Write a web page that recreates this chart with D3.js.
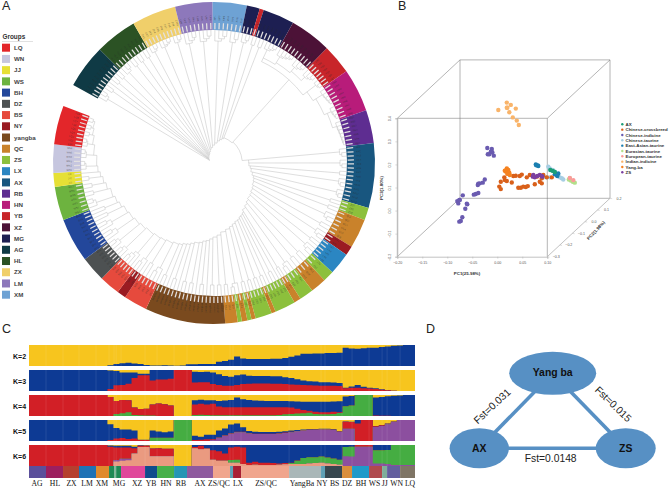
<!DOCTYPE html>
<html><head><meta charset="utf-8">
<script src="https://cdn.jsdelivr.net/npm/d3@7"></script>
<style>
html,body{margin:0;padding:0;background:#fff}
svg{display:block}
text{font-family:"Liberation Sans",Arial,sans-serif}
</style></head><body>
<svg id="c" width="669" height="488" viewBox="0 0 669 488"></svg>
<script>
// ---------- Panel A data ----------
const legendGroups=["LQ","WN","JJ","WS","BH","DZ","BS","NY","yangba","QC","ZS","LX","AX","RB","HN","YB","XZ","MG","AG","HL","ZX","LM","XM"];
const legendColors=["#e3262a","#c6c6df","#e6e035","#6db33f","#23479b","#4d5152","#e64a3d","#9a1b22","#7a4a1e","#c9822b","#8cc03c","#2b86c2","#18567f","#5e2d91","#b81c7a","#c8252a","#4c1237","#1d1f52","#0f3a45","#2b5224","#f0cf6a","#8d78bb","#6ea2d4"];
const ringStart=299;
const ringGroups=["AG","HL","ZX","LM","XM","MG","YB","MG","XZ","YB","HN","RB","AX","ZS","QC","NY","LX","ZS","QC","ZS","QC","ZS","QC","ZS","QC","ZS","QC","ZS","QC","yangba","BS","NY","BS","DZ","BH","WS","JJ","WN","LQ"];
const ringEnds=[314.8,330,346,359.5,371.8,376.5,378,389.4,404.5,415.3,430.9,442.9,466.2,470.7,481.3,484.7,492.7,496.7,502.4,507.5,510,517.5,519,525,526.5,528,530,531.5,536,565,573.5,576.7,584.2,593.3,609.3,621.4,626.4,636.7,650.7];
const ringLeaves=[10,9,10,8,7,3,1,7,9,7,9,7,14,3,6,2,5,2,3,3,2,5,1,4,1,1,1,1,3,18,5,2,5,6,10,7,3,6,9];
const spiralAngles=[299,330,360,380,395,450,470,495,520,540,565,585,600,633,650];
const spiralRadii=[5,10,20,27,32,35,43,50,64,76,90,95,100,121,128];
const treeCladesEarly=[[[3,2,1,2,2],124],[[3,2,2,2],124],[[3,4,3],126],[[4,4],122],[[4,3],122],[[3,2,2],124]];
const bigCladeA=[4,5,4,4], bigCladeB=[3,5,4,7];
const treeCladesLate=[[[3,3,2,3,3],126],[[2,2,3,2,3,2,3,2,2,3,2,1,2,1,2,2,2,2,3,2],122],[[2,2,1,2,1,2,2,1,2,1,2],122],[[3,2,3,4],118],[[3,3],122],[[3,3,2,2],118],[[3,2,2],124],[[2,1],126],[[3,3],128],[[3,2,2,2],128]];
// ---------- Panel B data ----------
const pcaGroups=["AX","Chinese-crossbreed","Chinese-indicine","Chinese-taurine","East-Asian-taurine","Eurasian-taurine","European-taurine","Indian-indicine","Yang-ba","ZS"];
const pcaColors=["#1b9e77","#d9601a","#6a5bb0","#a6cee3","#1a7fb0","#b2df8a","#fb9a99","#f9b46a","#f58220","#7b3fa0"];
const ptsAX=[[.106,.176],[.111,.172],[.115,.167]];
const ptsCrossbreed=[[.007,.125],[.015,.132],[.019,.128],[.014,.144],[.029,.122],[.032,.150],[.037,.151],[.004,.104],[.007,.093],[.042,.099],[.047,.099],[.052,.104],[.057,.102],[.061,.106],[.059,.144],[.065,.154],[.072,.150],[.079,.147],[.075,.114],[.085,.125],[.089,.118],[.089,.140],[.092,.154],[.099,.144],[.109,.144],[.049,.156],[.045,.150]];
const ptsCnIndicine=[[-.020,.271],[-.011,.267],[-.013,.255],[-.016,.244],[-.019,.244],[-.007,.238],[-.010,.253],[-.025,.135],[-.029,.121],[-.035,.118],[-.038,.117],[-.039,.111],[-.038,.076],[-.043,.072],[-.047,.069],[-.069,.066],[-.076,.046],[-.080,.041],[-.078,.031],[-.075,.046],[-.061,.030],[-.060,.027],[-.064,.008],[-.070,-.029],[-.073,-.045],[-.076,-.048]];
const ptsCnTaurine=[[.102,.190],[.105,.183],[.111,.176],[.115,.169],[.122,.154],[.129,.140],[.132,.135],[.099,.144],[.105,.144],[.092,.144],[.125,.144]];
const ptsEastAsian=[[.077,.200],[.081,.196],[.078,.196],[.082,.193],[.115,.157],[.119,.154],[.122,.161],[.120,.150],[.117,.159]];
const ptsEurasian=[[.143,.135],[.147,.130],[.151,.125],[.155,.121],[.145,.140]];
const ptsEuropean=[[.145,.141],[.152,.132]];
const ptsIndian=[[.002,.436],[.019,.468],[.027,.458],[.020,.446],[.019,.446],[.037,.442],[.024,.426],[.031,.404],[.039,.390],[.043,.371]];
const ptsYangba=[[.019,.183],[.022,.176],[.017,.169],[.024,.164],[.020,.159],[.025,.154],[.015,.173]];
const ptsZS=[[.071,.147],[.075,.144],[.080,.150],[.089,.150],[.072,.154],[.090,.147],[.085,.154]];
const pcaPoints=[ptsCnTaurine,ptsCrossbreed,ptsCnIndicine,ptsZS,ptsEastAsian,ptsAX,ptsEurasian,ptsEuropean,ptsIndian,ptsYangba];
const pcaPointGroup=[3,1,2,9,4,0,5,6,7,8];
const pc1Ticks=[-.20,-.15,-.10,-.05,0,.05,.10], pc2Ticks=[-.3,-.2,-.1,0,.1,.2], pc3Ticks=[-.2,-.1,0,.1,.2,.3,.4];
// ---------- Panel C data (cumulative share in percent, read per column) ----------
const k2Blue=[0,0,0,0,0,0,0,0,0,0,0,0,0,4,10,13,15,12,10,5,2,2,3,2,1,2,8,8,9,9,10,20,24,30,45,36,33,33,33,33,34,35,38,44,50,58,58,60,60,62,62,63,87,83,82,84,87,87,90,93,97,98,100,100];
const k3Red=[0,0,0,0,0,0,0,0,0,0,0,0,0,10,27,28,35,62,75,75,50,55,55,58,100,100,100,40,42,42,33,28,25,25,28,33,35,36,36,36,35,35,33,31,30,28,27,26,25,25,25,24,13,15,15,13,12,10,6,3,1,0,0,0];
const k3Blue=[100,100,100,100,100,100,100,100,100,100,100,100,100,98,95,88,88,88,82,82,100,100,100,100,100,100,100,92,90,92,88,80,72,68,75,78,73,72,72,71,70,70,66,62,56,50,47,45,42,42,40,38,15,22,28,20,16,13,8,3,1,0,0,0];
const k4Green=[0,0,0,0,0,0,0,0,0,0,0,0,0,0,10,13,18,5,3,2,2,0,0,0,0,0,0,5,6,5,3,3,3,3,3,3,3,3,3,3,3,5,8,10,12,13,15,10,8,8,10,14,47,50,100,100,100,0,0,0,0,0,0,0];
const k4Red=[100,100,100,100,100,100,100,100,100,100,100,100,100,90,72,76,75,40,33,35,55,60,56,50,0,0,0,55,58,55,58,45,42,42,42,42,42,42,42,42,42,42,42,40,35,28,25,20,18,18,20,18,47,50,100,100,100,2,1,1,0,0,0,0];
const k4Blue=[100,100,100,100,100,100,100,100,100,100,100,100,100,90,72,76,75,40,33,35,55,60,56,50,0,0,0,75,77,75,75,72,74,76,88,80,76,74,73,72,72,72,71,70,69,68,68,68,68,68,69,70,93,95,100,100,100,88,90,94,96,98,100,100];
const k5Purple=[0,0,0,0,0,0,0,0,0,0,0,0,0,0,0,0,0,0,0,0,0,0,0,0,0,0,0,0,0,0,5,15,25,35,42,42,36,33,33,33,33,35,38,42,46,50,52,53,55,55,52,44,58,58,0,0,0,67,72,80,90,100,100,100];
const k5Green=[0,0,0,0,0,0,0,0,0,0,0,0,0,0,0,0,0,0,0,0,15,16,15,15,100,100,100,0,0,0,5,15,25,35,42,42,36,33,33,33,33,35,38,42,46,50,52,53,55,55,52,44,58,58,0,0,0,67,72,80,90,100,100,100];
const k5Red=[0,0,0,0,0,0,0,0,0,0,0,0,0,5,12,14,10,12,5,5,15,16,15,15,100,100,100,5,6,8,8,17,27,37,44,44,38,35,35,35,35,37,40,44,48,52,54,55,57,57,54,46,92,90,83,100,100,70,75,82,92,100,100,100];
const k5Blue=[100,100,100,100,100,100,100,100,100,100,100,100,100,80,62,55,55,50,6,6,50,45,42,45,100,100,100,25,20,30,30,50,60,78,83,65,48,44,43,43,43,44,46,50,52,55,56,57,58,58,56,48,93,92,100,100,100,71,76,83,93,100,100,100];
const k6Salmon=[0,0,0,0,0,0,0,0,0,0,0,0,0,0,22,25,27,60,90,90,47,47,47,47,0,0,0,85,80,82,30,25,25,15,15,10,5,6,5,5,5,6,8,9,10,10,12,14,15,12,10,6,0,0,0,0,0,0,0,0,0,0,0,0];
const k6Purple=[0,0,0,0,0,0,0,0,0,0,0,0,0,0,28,35,35,60,90,90,47,47,47,47,0,0,0,85,80,82,30,25,25,15,15,10,5,6,5,5,5,6,8,9,10,10,12,14,15,12,10,6,47,45,92,92,92,12,12,10,5,5,5,5];
const k6Green=[0,0,0,0,0,0,0,0,0,0,0,0,0,0,28,35,35,60,90,90,47,47,47,47,0,0,0,85,80,82,30,25,25,28,30,10,5,6,5,5,5,6,8,14,25,38,42,42,45,40,36,30,90,92,92,92,92,75,75,76,100,100,100,100];
const k6Red=[100,100,100,100,100,100,100,100,100,100,100,100,100,92,88,88,88,85,97,96,83,85,82,82,0,0,0,90,96,85,75,70,60,88,92,88,15,20,16,15,14,12,14,16,26,38,42,42,45,40,36,30,90,92,100,100,100,75,75,76,100,100,100,100];
const k6Blue=[100,100,100,100,100,100,100,100,100,100,100,100,100,98,97,97,97,92,99,98,83,85,82,82,0,0,0,100,100,100,100,100,100,100,100,100,100,100,100,100,100,100,100,100,100,100,100,100,100,100,100,100,100,100,100,100,100,100,100,100,100,100,100,100];
const kColors={yellow:"#f7c51e",blue:"#0d3a94",red:"#d21f26",green:"#45ad42",purple:"#8c4f9f",salmon:"#ea9a80"};
const kRows=[
 {label:"K=2",layers:[[k2Blue,"blue"]]},
 {label:"K=3",layers:[[k3Blue,"blue"],[k3Red,"red"]]},
 {label:"K=4",layers:[[k4Blue,"blue"],[k4Red,"red"],[k4Green,"green"]]},
 {label:"K=5",layers:[[k5Blue,"blue"],[k5Red,"red"],[k5Green,"green"],[k5Purple,"purple"]]},
 {label:"K=6",layers:[[k6Blue,"blue"],[k6Red,"red"],[k6Green,"green"],[k6Purple,"purple"],[k6Salmon,"salmon"]]}
];
const stripEdges=[0,2.82,5.64,8.29,11.11,13.27,14.1,14.45,15.26,19.24,21.23,24.05,26.2,30.51,33.33,33.83,35.16,43.12,48.42,49.08,51.9,53.56,56.38,58.54,59.37,61.53,64];
const stripColors=["#5b4f9b","#9c1f5f","#b5402f","#1f72b5","#e08a2d","#1f8a55","#7fb89a","#1f8a55","#e0479a","#0f4c8c","#46b04a","#2596b4","#8e5a9e","#f0a58d","#5fa0b5","#a81f34","#f0a58d","#a9b7b8","#5fa0b5","#37474f","#d98e3c","#1f9ac9","#b04a4e","#7fae9a","#635f9e","#7f7565"];
const popNames=["AG","HL","ZX","LM","XM","MG","XZ","YB","HN","RB","AX","ZS/QC","LX","ZS/QC","YangBa","NY","BS","DZ","BH","WS","JJ","WN","LQ"];
const popAt=[1.33,4.31,7.05,9.62,12.1,14.93,17.91,20.23,22.72,25.2,28.36,31.5,34.66,39.3,45.27,48.59,50.67,52.74,55.06,57.3,58.97,60.95,63.18];
// ---------- Panel D data ----------
const fstNodes=["Yang ba","AX","ZS"];
const fstLinks=[["Yang ba","AX","Fst=0.031"],["Yang ba","ZS","Fst=0.015"],["AX","ZS","Fst=0.0148"]];

const svg=d3.select("#c");
const letter=(t,x,y)=>svg.append("text").attr("x",x).attr("y",y).attr("font-size",12.5).attr("fill","#222").text(t);
letter("A",2,10);letter("B",398,10);letter("C",2,333);letter("D",426,333);

// ===== Panel A =====
const cx=214,cy=163;
const gA=svg.append("g").attr("transform",`translate(${cx},${cy})`);
const colorOf=d3.scaleOrdinal(legendGroups,legendColors);
const rad=a=>(a-90)*Math.PI/180;
const RO=161,RI=133,RT=134,RTE=140;
const leaves=[];
ringGroups.forEach((g,i)=>{
  const s=i?ringEnds[i-1]:ringStart,e=ringEnds[i],n=ringLeaves[i];
  d3.range(n).forEach(k=>leaves.push({group:g,a:s+(k+.5)*(e-s)/n,id:g+(k+1)}));
});
const arc=d3.arc();
gA.selectAll("path.seg").data(ringGroups).join("path").attr("class","seg")
 .attr("d",(g,i)=>arc({innerRadius:RI,outerRadius:RO,startAngle:(i?ringEnds[i-1]:ringStart)*Math.PI/180,endAngle:ringEnds[i]*Math.PI/180}))
 .attr("fill",g=>colorOf(g));
let leafCursor=0;
const spiralR=d3.scaleLinear(spiralAngles,spiralRadii).clamp(true);
function cladeNode(size,fork){
  if(size===1) return {leaf:leafCursor++};
  const first={leaf:leafCursor++};
  const rest=cladeNode(size-1,fork+(132-fork)/size);
  return {r:fork,children:[first,rest]};
}
function buildSpiral(items,rOf){
  const built=items.map(it=>{const a=leaves[leafCursor].a;return {node:it.make(),a,r:rOf(a,it)};});
  let node=null;
  built.slice().reverse().forEach(b=>{node=node?{r:b.r,hug:true,children:[b.node,node]}:b.node;});
  return node;
}
const mainItems=[];
treeCladesEarly.forEach(([sizes,fork])=>sizes.forEach(s=>mainItems.push({make:()=>cladeNode(s,fork)})));
const bigLin=(lo,hi,n)=>d3.scaleLinear([0,n-1],[lo,hi]);
mainItems.push({make:()=>{
  let i=0;const sa=bigLin(116,122,bigCladeA.length);
  const A=buildSpiral(bigCladeA.map(s=>({make:()=>cladeNode(s,125)})),()=>sa(i++));
  let j=0;const sb=bigLin(117,127,bigCladeB.length);
  const B=buildSpiral(bigCladeB.map(s=>({make:()=>cladeNode(s,128)})),()=>sb(j++));
  return {r:112,at:402,children:[A,B]};
}});
treeCladesLate.forEach(([sizes,fork])=>sizes.forEach(s=>mainItems.push({make:()=>cladeNode(s,fork)})));
const treeRoot=d3.hierarchy(buildSpiral(mainItems,a=>spiralR(a)));
treeRoot.eachAfter(n=>{
  const d=n.data;
  if(n.children){n.r=d.r;
    n.a=d.at!==undefined?d.at:d.hug?n.children[0].a:(n.children[0].a+n.children[n.children.length-1].a)/2;
  } else {n.r=RT;n.a=leaves[d.leaf].a;}
});
const linkPath=l=>{
  const p=d3.path(),a0=rad(l.source.a),a1=rad(l.target.a),r=l.source.r;
  p.moveTo(r*Math.cos(a0),r*Math.sin(a0));
  p.arc(0,0,r,a0,a1,a1<a0);
  p.lineTo(l.target.r*Math.cos(a1),l.target.r*Math.sin(a1));
  return p.toString();
};
gA.append("g").selectAll("path").data(treeRoot.links()).join("path").attr("d",linkPath)
 .attr("fill","none").attr("stroke","#c2c2c2").attr("stroke-width",.55);
const rot=d=>`rotate(${d.a-90})`;
gA.append("g").selectAll("line").data(leaves).join("line").attr("transform",rot)
 .attr("x1",RT).attr("x2",RTE).attr("stroke","#e2e0e0").attr("stroke-width",1.25);
gA.append("g").selectAll("text").data(leaves).join("text")
 .attr("transform",d=>{const left=((d.a%360)+360)%360>180;return rot(d)+` translate(145,0)`+(left?" rotate(180)":"");})
 .attr("text-anchor","middle").attr("dy","0.35em").attr("font-size",2.5).attr("fill","#2a2a2a").attr("fill-opacity",.7).text(d=>d.id);
const gL=svg.append("g");
gL.append("text").attr("x",2.5).attr("y",38.5).attr("font-size",6.4).attr("font-weight","bold").attr("fill","#333").text("Groups");
gL.append("line").attr("x1",2).attr("x2",33).attr("y1",41.5).attr("y2",41.5).attr("stroke","#ccc").attr("stroke-width",.6);
const legY=d3.scaleLinear([0,22],[47.7,294.7]);
gL.selectAll("rect").data(legendGroups).join("rect").attr("x",2).attr("y",(d,i)=>legY(i)-4).attr("width",8).attr("height",8).attr("fill",d=>colorOf(d));
gL.selectAll("text.l").data(legendGroups).join("text").attr("class","l").attr("x",14).attr("y",(d,i)=>legY(i)+2.2).attr("font-size",6.2).attr("font-weight","bold").attr("fill","#444").text(d=>d);

// ===== Panel B =====
const gB=svg.append("g");
const xS=d3.scaleLinear([-.2,.1],[397.3,547.3]);
const zS=d3.scaleLinear([-.2,.4],[256.7,118.3]);
const dX=d3.scaleLinear([-.3,.2],[0,62.7]);
const dY=d3.scaleLinear([-.3,.2],[0,-58.4]);
const [xa,xb]=xS.range(),[zb,zt]=zS.range(),bx=dX(.2),by=dY(.2);
const boxLine=(x1,y1,x2,y2,c="#777",w=.55)=>gB.append("line").attr("x1",x1).attr("y1",y1).attr("x2",x2).attr("y2",y2).attr("stroke",c).attr("stroke-width",w);
[[xa,zt,xb,zt],[xa,zt,xa,zb],[xb,zt,xb,zb],[xa,zt,xa+bx,zt+by],[xb,zt,xb+bx,zt+by],[xa,zb,xa+bx,zb+by],[xa+bx,zt+by,xb+bx,zt+by],[xa+bx,zt+by,xa+bx,zb+by],[xb+bx,zt+by,xb+bx,zb+by],[xa+bx,zb+by,xb+bx,zb+by]].forEach(s=>boxLine(...s));
const axStyle=g=>{g.selectAll("path.domain").attr("stroke","#bbb").attr("stroke-width",.9);g.selectAll("line").attr("stroke","#aaa").attr("stroke-width",.4);g.selectAll("text").attr("font-size",3.6).attr("fill","#555").attr("font-family","Liberation Sans");};
gB.append("g").attr("transform",`translate(0,${zb})`).call(d3.axisBottom(xS).tickValues(pc1Ticks).tickFormat(d3.format(".2f")).tickSize(2).tickPadding(3)).call(axStyle);
gB.append("g").attr("transform",`translate(${xa},0)`).call(d3.axisLeft(zS).tickValues(pc3Ticks).tickFormat(d3.format(".1f")).tickSize(2).tickPadding(3)).call(axStyle)
  .selectAll("text").attr("text-anchor","middle").attr("transform","rotate(-90)").attr("x",0).attr("y",-6).attr("dy",0);
boxLine(xb,zb,xb+bx,zb+by,"#bbb",.9);
const gD=gB.append("g").selectAll("g").data(pc2Ticks).join("g").attr("transform",d=>`translate(${xb+dX(d)},${zb+dY(d)})`);
gD.append("line").attr("x2",2.2).attr("y2",.4).attr("stroke","#aaa").attr("stroke-width",.4);
gD.append("text").attr("x",9).attr("y",1.2).attr("text-anchor","middle").attr("font-size",3.6).attr("fill","#555").text(d3.format(".1f"));
gB.append("text").attr("transform","translate(467,274.5)").attr("text-anchor","middle").attr("font-size",4.4).attr("font-weight","bold").attr("fill","#333").text("PC1(25.98%)");
gB.append("text").attr("transform","translate(383,188) rotate(-90)").attr("text-anchor","middle").attr("font-size",4.4).attr("font-weight","bold").attr("fill","#333").text("PC3(1.80%)");
gB.append("text").attr("transform","translate(597,231.5) rotate(-47)").attr("text-anchor","middle").attr("font-size",4.4).attr("font-weight","bold").attr("fill","#333").text("PC2(1.98%)");
pcaPoints.forEach((pts,gi)=>{
  gB.append("g").selectAll("circle").data(pts).join("circle").attr("cx",d=>xS(d[0])).attr("cy",d=>zS(d[1])).attr("r",2.2).attr("fill",pcaColors[pcaPointGroup[gi]]);
});
const bLeg=d3.scaleLinear([0,9],[124.3,172.3]);
gB.append("g").selectAll("circle").data(pcaGroups).join("circle").attr("cx",622.3).attr("cy",(d,i)=>bLeg(i)).attr("r",1.2).attr("fill",(d,i)=>pcaColors[i]);
gB.append("g").selectAll("text").data(pcaGroups).join("text").attr("x",625.5).attr("y",(d,i)=>bLeg(i)+1.7).attr("font-size",4.4).attr("font-weight","bold").attr("fill","#333").text(d=>d);

// ===== Panel C =====
const gC=svg.append("g");
const colX=d3.scaleLinear([0,64],[29,415]);
const rowY=d3.scaleLinear([0,4],[345,445]);
const rowH=21;
kRows.forEach((row,ri)=>{
  const top=rowY(ri);
  const yS=d3.scaleLinear([0,100],[top+rowH,top]);
  gC.append("rect").attr("x",colX(0)).attr("y",top).attr("width",colX(64)-colX(0)).attr("height",rowH).attr("fill",kColors.yellow);
  const area=d3.area().curve(d3.curveStepAfter).x((d,i)=>colX(i)).y0(yS(0)).y1(d=>yS(d));
  row.layers.forEach(([vals,col])=>{
    const v=vals.concat([vals[vals.length-1]]);
    gC.append("path").attr("d",area(v)).attr("fill",kColors[col]);
  });
  gC.selectAll(null).data(stripEdges.slice(1,-1)).join("line").attr("x1",d=>colX(d)).attr("x2",d=>colX(d)).attr("y1",top).attr("y2",top+rowH).attr("stroke","#fff").attr("stroke-opacity",.2).attr("stroke-width",.5);
  gC.append("text").attr("x",13).attr("y",top+13.5).attr("font-size",7).attr("font-weight","bold").attr("fill","#111").text(row.label);
});
gC.selectAll("rect.strip").data(stripColors).join("rect").attr("class","strip")
 .attr("x",(d,i)=>colX(stripEdges[i])).attr("width",(d,i)=>colX(stripEdges[i+1])-colX(stripEdges[i])).attr("y",466).attr("height",12).attr("fill",d=>d);
gC.selectAll("text.pop").data(popNames).join("text").attr("class","pop").attr("x",(d,i)=>colX(popAt[i])).attr("y",486)
 .attr("text-anchor","middle").attr("font-size",7.7).attr("fill","#111").style("font-family","'Liberation Serif',serif").text(d=>d);

// ===== Panel D =====
const gE=svg.append("g");
const nodePos=d3.scaleOrdinal(fstNodes,[[552.7,373.3],[479.3,448.3],[625.7,448.3]]);
const nodeRad=d3.scaleOrdinal(fstNodes,[[43.5,21.5],[29.7,20],[30,20]]);
const labelPos=d3.scaleOrdinal(fstLinks.map(d=>d[2]),[[492,406,-43],[613.3,404,44],[550.7,458,0]]);
const blue="#5790c4";
gE.selectAll("line").data(fstLinks).join("line").attr("x1",d=>nodePos(d[0])[0]).attr("y1",d=>nodePos(d[0])[1]).attr("x2",d=>nodePos(d[1])[0]).attr("y2",d=>nodePos(d[1])[1]).attr("stroke",blue).attr("stroke-width",3.6);
gE.selectAll("ellipse").data(fstNodes).join("ellipse").attr("cx",d=>nodePos(d)[0]).attr("cy",d=>nodePos(d)[1]).attr("rx",d=>nodeRad(d)[0]).attr("ry",d=>nodeRad(d)[1]).attr("fill",blue);
gE.selectAll("text.n").data(fstNodes).join("text").attr("class","n").attr("x",d=>nodePos(d)[0]).attr("y",d=>nodePos(d)[1]+(d==="Yang ba"?-1.5:0)).attr("dy","0.36em").attr("text-anchor","middle").attr("font-size",10.4).attr("font-weight","bold").attr("fill","#111").text(d=>d);
gE.selectAll("text.f").data(fstLinks).join("text").attr("class","f").attr("transform",d=>{const p=labelPos(d[2]);return `translate(${p[0]},${p[1]}) rotate(${p[2]})`;}).attr("text-anchor","middle").attr("dy","0.36em").attr("font-size",10.3).attr("fill","#222").text(d=>d[2]);
</script>
</body></html>
